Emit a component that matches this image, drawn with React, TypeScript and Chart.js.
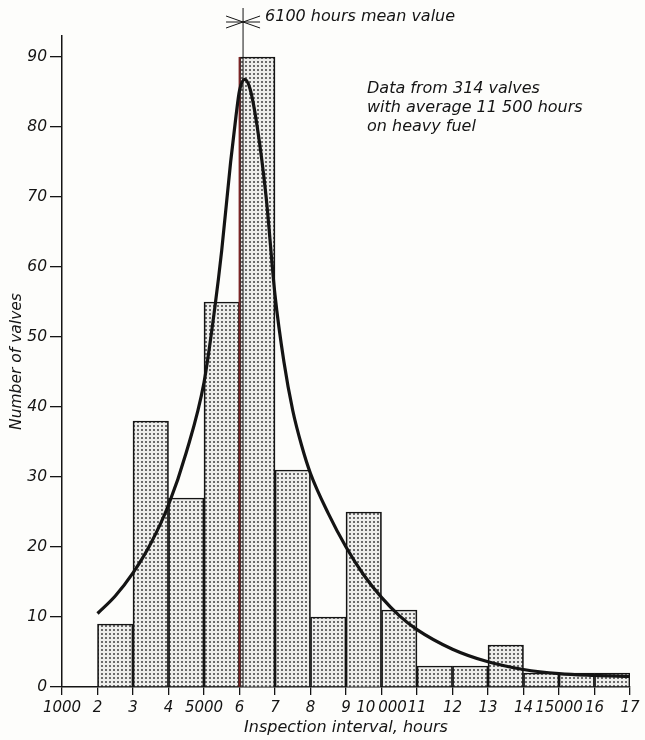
import React, { useEffect, useRef } from 'react';
import { Chart, registerables } from 'chart.js';

Chart.register(...registerables);

// Histogram bins (thousands of hours) and counts
const binStarts = [2, 3, 4, 5, 6, 7, 8, 9, 10, 11, 12, 13, 14, 15, 16];
const valveCounts = [9, 38, 27, 55, 90, 31, 10, 25, 11, 3, 3, 6, 2, 2, 2];

// Fitted distribution curve
const curveX = [2, 2.5, 3, 3.5, 4, 4.5, 5, 5.3, 5.5, 5.75, 5.9, 6.0, 6.15, 6.3, 6.5, 6.75, 7.0, 7.25, 7.5, 7.75, 8, 8.5, 9, 9.5, 10, 10.5, 11, 12, 13, 14, 15, 16, 17];
const curveY = [10.5, 13, 16.3, 20.5, 26, 33.5, 43.5, 54, 62.4, 75, 81.5, 85.2, 86.8, 85.4, 80, 70, 56, 46.5, 39.5, 34.5, 30.5, 24.8, 20.0, 16.0, 12.8, 10.2, 8.2, 5.4, 3.6, 2.5, 1.9, 1.65, 1.5];

// Mean marker
const meanValue = 6.1;
const meanTop = 97;
const markerLevel = 95;
const redEdgeX = 6;

const xTickLabels: Record<number, string> = { 1: '1000', 5: '5000', 10: '10\u2009000', 15: '15000' };
const meanLabel = '6100 hours mean value';
const noteLines = ['Data from 314 valves', 'with average 11 500 hours', 'on heavy fuel'];

const ink = '#141414';
const family = 'DejaVu Sans';

export default function App() {
  const ref = useRef<HTMLCanvasElement>(null);

  useEffect(() => {
    const canvas = ref.current;
    if (!canvas) return;
    const ctx = canvas.getContext('2d')!;

    const pc = document.createElement('canvas');
    pc.width = 4;
    pc.height = 4;
    const g = pc.getContext('2d')!;
    g.fillStyle = '#eeeeec';
    g.fillRect(0, 0, 4, 4);
    g.fillStyle = '#6c6c6c';
    g.fillRect(1, 1, 2, 2);
    const pattern = ctx.createPattern(pc, 'repeat')!;

    const redTop = valveCounts[binStarts.indexOf(redEdgeX)];

    const annot = {
      id: 'annot',
      beforeDraw(chart: any) {
        const c = chart.ctx;
        c.save();
        c.fillStyle = '#fdfdfb';
        c.fillRect(0, 0, chart.width, chart.height);
        c.restore();
      },
      afterDatasetsDraw(chart: any) {
        const c = chart.ctx;
        const { x, y } = chart.scales;
        const mx = x.getPixelForValue(meanValue);
        const my = y.getPixelForValue(markerLevel);
        c.save();
        c.strokeStyle = ink;
        c.lineWidth = 1;
        c.beginPath();
        c.moveTo(mx - 17, my - 6);
        c.lineTo(mx + 17, my + 6);
        c.moveTo(mx - 17, my + 6);
        c.lineTo(mx + 17, my - 6);
        c.moveTo(mx - 17, my);
        c.lineTo(mx + 17, my);
        c.stroke();
        c.fillStyle = ink;
        c.font = `italic 16px "${family}"`;
        c.textBaseline = 'middle';
        c.textAlign = 'left';
        c.fillText(meanLabel, mx + 22, my - 5);
        const nx = 367;
        noteLines.forEach((t, i) => c.fillText(t, nx, 89 + i * 19));
        c.restore();
      },
    };

    const chart = new Chart(ctx, {
      type: 'bar',
      data: {
        datasets: [
          {
            type: 'line',
            data: curveX.map((v, i) => ({ x: v, y: curveY[i] })),
            borderColor: ink,
            borderWidth: 3.2,
            pointRadius: 0,
            fill: false,
            cubicInterpolationMode: 'monotone',
            order: 0,
          } as any,
          {
            type: 'line',
            data: [{ x: meanValue, y: 0 }, { x: meanValue, y: meanTop }],
            borderColor: ink,
            borderWidth: 1,
            pointRadius: 0,
            clip: false,
            order: 1,
          } as any,
          {
            type: 'line',
            data: [{ x: redEdgeX, y: 0 }, { x: redEdgeX, y: redTop }],
            borderColor: '#7b2626',
            borderWidth: 1.8,
            pointRadius: 0,
            order: 2,
          } as any,
          {
            type: 'bar',
            data: binStarts.map((s, i) => ({ x: s + 0.5, y: valveCounts[i] })),
            backgroundColor: pattern,
            borderColor: ink,
            borderWidth: 1.7,
            barPercentage: 1,
            categoryPercentage: 1,
            order: 3,
          } as any,
        ],
      },
      options: {
        responsive: false,
        animation: false,
        layout: { padding: { top: 36, right: 15, left: 0, bottom: 0 } },
        plugins: { legend: { display: false }, tooltip: { enabled: false } },
        scales: {
          x: {
            type: 'linear',
            min: 1,
            max: 17,
            offset: false,
            ticks: {
              stepSize: 1,
              autoSkip: false,
              maxRotation: 0,
              padding: 4,
              color: ink,
              font: { family, style: 'italic', size: 15 },
              callback: (v: any) => xTickLabels[v] ?? String(v),
            },
            grid: { drawOnChartArea: false, drawTicks: true, tickLength: 8, color: ink, tickColor: ink, lineWidth: 1.3, offset: false },
            border: { display: true, color: ink, width: 1.5 },
            title: { display: true, text: 'Inspection interval, hours', color: ink, font: { family, style: 'italic', size: 16 }, padding: { top: 0, bottom: 3 } },
            afterFit: (s: any) => { s.height = 53; },
          },
          y: {
            min: 0,
            max: 93,
            ticks: {
              stepSize: 10,
              includeBounds: false,
              padding: 3,
              color: ink,
              font: { family, style: 'italic', size: 15.5 },
            },
            grid: { drawOnChartArea: false, drawTicks: true, tickLength: 12, color: ink, tickColor: ink, lineWidth: 1.3 },
            border: { display: true, color: ink, width: 1.5 },
            title: { display: true, text: 'Number of valves', color: ink, font: { family, style: 'italic', size: 15.5 }, padding: { top: 8, bottom: 0 } },
            afterFit: (s: any) => { s.width = 62; },
          },
        },
      } as any,
      plugins: [annot],
    });

    return () => chart.destroy();
  }, []);

  return (
    <div style={{ position: 'fixed', left: 0, top: 0, width: 645, height: 740 }}>
      <canvas ref={ref} width={645} height={740} style={{ display: 'block', width: 645, height: 740 }} />
    </div>
  );
}
